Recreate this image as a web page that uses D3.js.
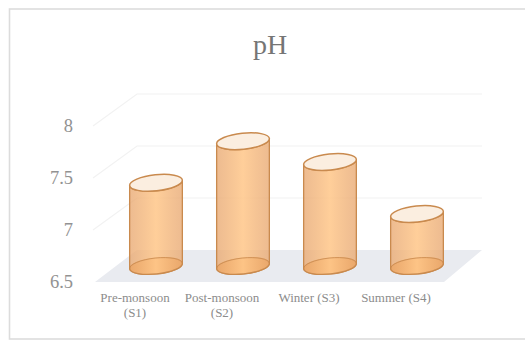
<!DOCTYPE html>
<html>
<head>
<meta charset="utf-8">
<script src="https://cdn.jsdelivr.net/npm/d3@7"></script>
<style>
  html, body { margin: 0; padding: 0; background: #fff; }
  svg { display: block; }
  text { font-family: "Liberation Serif", "Times New Roman", serif; }
</style>
</head>
<body>
<svg id="chart" width="525" height="342"></svg>
<script>
// pH by season
const seasons = ["Pre-monsoon (S1)", "Post-monsoon (S2)", "Winter (S3)", "Summer (S4)"];
const phValues = [7.3, 7.7, 7.5, 7.0];
const phTicks = [6.5, 7, 7.5, 8];
const chartTitle = "pH";

const svg = d3.select("#chart");

// Frame
svg.append("rect").attr("x", 9.5).attr("y", 9).attr("width", 530).attr("height", 330)
  .attr("fill", "#fff").attr("stroke", "#dcdcdc").attr("stroke-width", 1.6);

// Oblique projection: the same value scale at the front and back of the floor
const yFront = d3.scaleLinear().domain([6.5, 8]).range([282, 126]);
const yBack = d3.scaleLinear().domain([6.5, 8]).range([250, 94]);
const yMid = d3.scaleLinear().domain([6.5, 8]).range([266, 110]);
const xFrontLeft = 93, xBackLeft = 137, xBackRight = 482, xFrontRight = 444;

// Cylinders sit mid-depth, labels sit along the front edge of the floor
const x = d3.scaleBand().domain(seasons).range([113, 461]);
const xLabel = d3.scaleBand().domain(seasons).range([91.5, 439.5]);

const defs = svg.append("defs");
const grad = defs.append("linearGradient").attr("id", "barFill");
[["0%", "#e8a871", 0.78], ["50%", "#ffc88c", 0.88], ["100%", "#e8a871", 0.78]].forEach(s => {
  grad.append("stop").attr("offset", s[0]).attr("stop-color", s[1]).attr("stop-opacity", s[2]);
});

// Floor
const floorPts = [[xFrontLeft + 2, yFront(6.5)], [xBackLeft, yBack(6.5)], [xBackRight, yBack(6.5)], [xFrontRight, yFront(6.5)]];
svg.append("polygon").attr("points", floorPts.join(" ")).attr("fill", "#e9ebf0");

// Gridlines running along the left wall and back wall
const grid = svg.append("g").attr("fill", "none").attr("stroke", "#f2f2f2").attr("stroke-width", 1.2);
phTicks.filter(t => t > 6.5).forEach(t => {
  grid.append("polyline").attr("points", [[xFrontLeft, yFront(t)], [xBackLeft, yBack(t)], [xBackRight, yBack(t)]].join(" "));
});

// Value labels
svg.append("g").selectAll("text").data(phTicks).join("text")
  .attr("x", 73).attr("y", d => yFront(d)).attr("dy", "0.33em")
  .attr("text-anchor", "end").attr("font-size", 18.5).attr("fill", "#929292")
  .text(d => d);

// Title
svg.append("text").attr("x", 270).attr("y", 54).attr("text-anchor", "middle")
  .attr("font-size", 28).attr("fill", "#757575").text(chartTitle);

// Cylinders
const rx = 26.5, ry = 8, tilt = -6;
const edge = "#c98a4e";
const bars = svg.append("g").selectAll("g").data(seasons).join("g");
bars.each(function (name, i) {
  const g = d3.select(this);
  const cx = x(name) + x.bandwidth() / 2 - 0.5;
  const yBase = yMid(6.5);
  const yTop = yMid(phValues[i]);
  const dx = rx * Math.cos(tilt * Math.PI / 180);
  const dy = rx * Math.sin(tilt * Math.PI / 180);
  const arc = (px, py, sweep) => `A${rx},${ry} ${tilt} 0 ${sweep} ${px},${py}`;
  const body = `M${cx - dx},${yTop - dy} L${cx - dx},${yBase - dy} ${arc(cx + dx, yBase + dy, 0)} L${cx + dx},${yTop + dy} ${arc(cx - dx, yTop - dy, 1)} Z`;
  // Base disc behind the translucent wall
  g.append("ellipse").attr("cx", cx).attr("cy", yBase).attr("rx", rx).attr("ry", ry)
    .attr("transform", `rotate(${tilt} ${cx} ${yBase})`)
    .attr("fill", "#f0a658").attr("stroke", edge).attr("stroke-width", 1.3);
  g.append("path").attr("d", body).attr("fill", "url(#barFill)").attr("stroke", edge).attr("stroke-width", 1.3);
  // Rear rim of the base reads through the wall
  g.append("path").attr("d", `M${cx - dx},${yBase - dy} ${arc(cx + dx, yBase + dy, 1)}`)
    .attr("fill", "none").attr("stroke", edge).attr("stroke-width", 1).attr("stroke-opacity", 0.8);
  // Open top
  g.append("ellipse").attr("cx", cx).attr("cy", yTop).attr("rx", rx).attr("ry", ry)
    .attr("transform", `rotate(${tilt} ${cx} ${yTop})`)
    .attr("fill", "#fbeee0").attr("stroke", edge).attr("stroke-width", 1.5);
});

// Category labels, wrapped before the season code on the monsoon names
const labels = svg.append("g").selectAll("text").data(seasons).join("text")
  .attr("text-anchor", "middle").attr("font-size", 13).attr("fill", "#8c8c8c");
labels.each(function (name) {
  const t = d3.select(this);
  const cx = xLabel(name) + xLabel.bandwidth() / 2;
  const parts = name.includes("monsoon") ? name.split(" ") : [name];
  parts.forEach((p, j) => {
    t.append("tspan").attr("x", cx).attr("y", 302 + j * 15).text(p);
  });
});
</script>
</body>
</html>
